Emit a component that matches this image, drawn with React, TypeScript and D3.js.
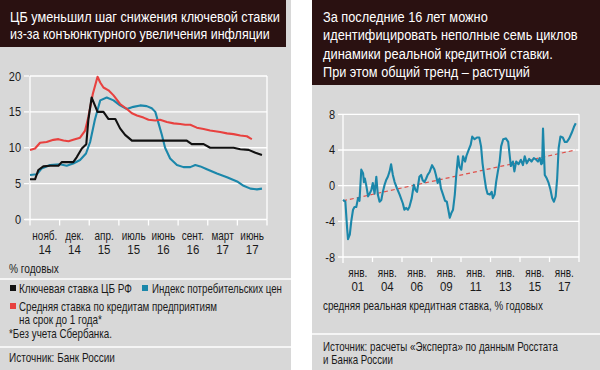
import React from 'react';
import * as d3 from 'd3';

// left chart: x is a period index, 10 units per axis label
const leftMonths = ['нояб.', 'дек.', 'апр.', 'июль', 'июнь', 'сент.', 'март', 'июнь'];
const leftYears = ['14', '14', '15', '15', '16', '16', '17', '17'];
const leftYTicks = [0, 5, 10, 15, 20];

const loanRate: [number, number][] = [
  [0, 9.7], [1.7, 9.9], [3.4, 10.7], [5.6, 10.8], [7.9, 11.1], [9.6, 11.2], [11.3, 11.0], [13.0, 10.9],
  [14.6, 11.1], [16.9, 11.4], [18.6, 12.4], [19.7, 14.3], [21.2, 17.5], [22.8, 19.9], [23.7, 19.1],
  [24.8, 18.4], [26.5, 18.0], [28.2, 17.3], [30.4, 16.1], [32.7, 15.4], [34.4, 14.8], [36.1, 14.5],
  [38.3, 14.2], [40.0, 13.9], [42.3, 13.8], [43.9, 13.9], [46.2, 13.6], [48.5, 13.4], [50.7, 13.3],
  [52.4, 13.2], [54.1, 13.2], [56.3, 12.8], [58.6, 12.6], [60.8, 12.4], [62.5, 12.3], [64.2, 12.2],
  [66.5, 12.0], [68.7, 11.9], [71.0, 11.7], [73.2, 11.6], [74.4, 11.3], [74.9, 11.2],
];

const keyRate: [number, number][] = [
  [0, 5.6], [1.7, 5.6], [2.8, 6.9], [4.5, 7.4], [6.8, 7.5], [9.6, 7.5], [10.7, 8.0], [14.6, 8.0],
  [15.8, 8.7], [17.5, 9.9], [19.0, 10.5], [19.7, 13.9], [20.8, 17.0], [21.9, 15.9], [22.8, 15.0],
  [24.8, 15.0], [26.5, 14.0], [28.8, 14.0], [30.4, 12.7], [32.1, 11.8], [34.4, 11.0], [37.2, 11.0],
  [52.9, 11.0], [54.6, 10.5], [58.6, 10.5], [60.8, 10.0], [68.7, 10.0], [71.0, 9.8], [73.8, 9.7],
  [76.1, 9.3], [78.3, 9.0],
];

const cpi: [number, number][] = [
  [0, 6.2], [2.3, 6.3], [3.9, 7.1], [6.8, 7.6], [10.1, 7.7], [12.4, 7.5], [14.6, 7.8], [16.9, 8.3],
  [18.9, 9.2], [20.3, 10.8], [21.9, 13.9], [23.7, 16.6], [25.9, 17.0], [28.2, 16.6], [30.4, 15.9],
  [32.7, 15.4], [34.9, 15.7], [37.2, 15.9], [39.4, 15.8], [41.1, 15.5], [42.3, 15.0], [43.4, 13.4],
  [44.5, 11.8], [45.6, 10.0], [47.3, 8.5], [49.6, 7.6], [51.8, 7.3], [54.1, 7.3], [55.8, 7.6],
  [57.5, 7.4], [59.7, 7.0], [63.1, 6.4], [66.5, 5.9], [69.9, 5.3], [72.1, 4.7], [74.4, 4.3],
  [76.6, 4.2], [78.3, 4.3],
];

// right chart
const rightMonths = ['янв.', 'янв.', 'янв.', 'янв.', 'янв.', 'янв.', 'янв.', 'янв.'];
const rightYears = ['01', '04', '06', '09', '11', '13', '15', '17'];
const rightYTicks = [-8, -4, 0, 4, 8];

const realRate: [number, number][] = [
  [0, -1.6], [0.8, -1.8], [1.4, -4.8], [1.7, -6.0], [2.3, -5.5], [2.8, -4.0], [3.4, -2.7], [3.9, -2.4],
  [4.5, -2.4], [5.1, -1.4], [5.6, -1.7], [6.2, 1.8], [6.8, 1.4], [7.1, 0.4], [7.4, 0.8], [7.9, 0.0],
  [8.5, -1.2], [9.0, -0.9], [9.6, -0.5], [10.1, 0.3], [10.7, -0.9], [11.3, 1.0], [11.8, -1.0],
  [12.4, -1.8], [13.0, -1.6], [13.5, -0.7], [14.1, 0.1], [14.6, 0.6], [15.2, 1.0], [15.8, 1.6],
  [16.3, 2.4], [16.9, 1.2], [17.5, 0.4], [18.3, -0.3], [19.2, -1.0], [20.3, -2.0], [20.8, -2.7],
  [21.4, -2.5], [22.0, -2.7], [22.5, -2.4], [23.3, -1.4], [24.0, 0.1], [24.6, -0.5], [25.1, -0.7],
  [25.9, 1.0], [26.5, 1.2], [27.0, 0.6], [27.6, 0.4], [28.2, 0.8], [28.7, 1.2], [29.3, 1.5],
  [30.2, 2.3], [31.0, 1.8], [31.5, 1.2], [32.1, 0.3], [32.7, 0.8], [33.2, -0.3], [33.8, -0.9],
  [34.6, -1.7], [35.2, -1.8], [35.7, -2.7], [36.2, -3.6], [36.7, -3.1], [37.3, -2.7], [37.9, -1.0],
  [38.4, 1.2], [39.0, 3.3], [39.5, 2.1], [40.1, 1.8], [40.7, 3.3], [41.4, 2.7], [41.9, 3.4],
  [42.6, 4.0], [43.3, 4.6], [43.8, 5.5], [44.6, 5.2], [45.4, 5.4], [46.2, 5.4], [46.8, 4.4],
  [47.3, 2.5], [47.9, 1.0], [48.5, -0.3], [49.0, -0.9], [49.8, -1.0], [50.4, -0.7], [50.8, -1.4],
  [51.4, -1.0], [51.9, 0.4], [52.5, 1.6], [53.1, 2.7], [53.6, 4.4], [54.3, 5.2], [55.2, 5.3],
  [56.0, 4.9], [56.5, 3.4], [56.9, 2.2], [57.6, 2.7], [58.1, 1.6], [58.7, 2.7], [59.5, 2.4],
  [60.3, 2.9], [61.0, 2.3], [61.6, 3.3], [62.3, 2.5], [63.1, 3.0], [63.9, 2.7], [64.7, 3.1],
  [65.5, 2.9], [66.1, 2.7], [66.7, 3.1], [67.2, 2.4], [67.5, 2.5], [67.8, 6.4], [68.4, 1.2],
  [69.1, 0.8], [69.7, 0.3], [70.3, -0.4], [70.9, -1.4], [71.5, -1.8], [72.1, -1.2], [72.6, 0.8],
  [73.1, 4.2], [73.7, 5.5], [74.5, 5.4], [75.2, 4.9], [75.9, 4.9], [76.7, 5.3], [77.5, 5.9],
  [78.3, 6.6], [78.9, 7.0],
];
const trend: [number, number][] = [[0, -1.7], [78.9, 4.0]];

const FONT = "'Liberation Sans', Arial, sans-serif";
const DARK = '#2a1111';
const PANEL = '#d8d8d8';
const RED = '#e8413f';
const BLUE = '#1b87aa';
const BLACK = '#111111';
const INK = '#1a1a1a';

let ctx: CanvasRenderingContext2D | null = null;
function measure(s: string, size: number) {
  if (!ctx) ctx = document.createElement('canvas').getContext('2d');
  if (!ctx) return s.length * size * 0.5;
  ctx.font = `${size}px 'Liberation Sans', Arial, sans-serif`;
  return ctx.measureText(s).width;
}

// condensed look: squeeze horizontally, to a target width or by a factor
function T({ x, y, size, w, sx, anchor = 'start', fill = INK, children }: {
  x: number; y: number; size: number; w?: number; sx?: number; anchor?: string; fill?: string; children: string | number;
}) {
  const k = w ? w / measure(String(children), size) : (sx ?? 0.82);
  return (
    <text transform={`translate(${x},${y}) scale(${k},1)`} fontSize={size} fontFamily={FONT}
      fill={fill} textAnchor={anchor}>{children}</text>
  );
}

export default function App() {
  // left scales
  const lx = d3.scaleLinear().domain([0, 80]).range([30, 267]);
  const lBand = d3.scaleBand<number>().domain(d3.range(8)).range([30, 267]);
  const ly = d3.scaleLinear().domain([0, 20]).range([219.5, 76]);
  const lLine = d3.line<[number, number]>().x(d => lx(d[0])).y(d => ly(d[1]));

  // right scales
  const rx = d3.scaleLinear().domain([0, 80]).range([343, 579]);
  const rBand = d3.scaleBand<number>().domain(d3.range(8)).range([343, 579]);
  const ry = d3.scaleLinear().domain([-8, 8]).range([257, 114.3]);
  const rLine = d3.line<[number, number]>().x(d => rx(d[0])).y(d => ry(d[1]));

  const rightTitle = ['За последние 16 лет можно', 'идентифицировать неполные семь циклов',
    'динамики реальной кредитной ставки.', 'При этом общий тренд – растущий'];
  const rightTitleW = [165, 255, 230, 207];

  return (
    <svg width={600} height={370} style={{ position: 'absolute', left: 0, top: 0, background: '#fff' }}>
      {/* left panel */}
      <rect x={0} y={0} width={291} height={370} fill={PANEL} />
      <rect x={0} y={0} width={286} height={47} fill={DARK} />
      <T x={10} y={21.5} size={15} w={270} fill="#fff">ЦБ уменьшил шаг снижения ключевой ставки</T>
      <T x={10} y={38.5} size={15} w={260} fill="#fff">из-за конъюнктурного увеличения инфляции</T>

      {leftYTicks.map(t => (
        <g key={'ly' + t}>
          <line x1={t === 0 ? 25 : 30} x2={267} y1={ly(t)} y2={ly(t)} stroke="#fff" strokeWidth={1.3} />
          <line x1={24} x2={29} y1={ly(t)} y2={ly(t)} stroke="#fff" strokeWidth={1.3} />
          <T x={21} y={ly(t) + 4.5} size={12.5} sx={0.88} anchor="end">{t}</T>
        </g>
      ))}
      <line x1={30} x2={30} y1={ly(20)} y2={ly(0)} stroke="#fff" strokeWidth={1.3} />
      <line x1={267} x2={267} y1={ly(20)} y2={ly(0)} stroke="#fff" strokeWidth={1.3} />
      {d3.range(9).map(i => (
        <line key={'lt' + i} x1={30 + i * lBand.bandwidth()} x2={30 + i * lBand.bandwidth()}
          y1={ly(0)} y2={ly(0) + 6} stroke="#fff" strokeWidth={1.3} />
      ))}
      {leftMonths.map((m, i) => (
        <g key={'lm' + i}>
          <T x={(lBand(i) ?? 0) + lBand.bandwidth() / 2} y={240} size={12.5} sx={0.8} anchor="middle">{m}</T>
          <T x={(lBand(i) ?? 0) + lBand.bandwidth() / 2} y={254} size={13.5} sx={0.85} anchor="middle">{leftYears[i]}</T>
        </g>
      ))}

      <path d={lLine(cpi) ?? ''} fill="none" stroke={BLUE} strokeWidth={2.1} strokeLinejoin="round" />
      <path d={lLine(loanRate) ?? ''} fill="none" stroke={RED} strokeWidth={2.1} strokeLinejoin="round" />
      <path d={lLine(keyRate) ?? ''} fill="none" stroke={BLACK} strokeWidth={2.1} strokeLinejoin="round" />

      <T x={9} y={273} size={13} w={50}>% годовых</T>
      <line x1={0} x2={291} y1={279} y2={279} stroke="#fff" strokeWidth={1.3} />

      <rect x={10} y={285} width={6} height={6} fill={BLACK} />
      <T x={19} y={293} size={13} w={113}>Ключевая ставка ЦБ РФ</T>
      <rect x={142} y={285} width={6} height={6} fill={BLUE} />
      <T x={152} y={293} size={13} w={130}>Индекс потребительских цен</T>
      <rect x={10} y={303} width={6} height={6} fill={RED} />
      <T x={19} y={311} size={13} w={198}>Средняя ставка по кредитам предприятиям</T>
      <T x={19} y={324} size={13} w={83}>на срок до 1 года*</T>
      <T x={9} y={338} size={13} w={103}>*Без учета Сбербанка.</T>
      <line x1={0} x2={291} y1={347} y2={347} stroke="#fff" strokeWidth={1.3} />
      <T x={9} y={362} size={13} w={106}>Источник: Банк России</T>

      {/* right panel */}
      <rect x={312} y={0} width={288} height={370} fill={PANEL} />
      <rect x={312} y={0} width={288} height={85} fill={DARK} />
      {rightTitle.map((s, i) => (
        <T key={'rt' + i} x={323} y={21.5 + i * 18.5} size={15} w={rightTitleW[i]} fill="#fff">{s}</T>
      ))}

      {rightYTicks.map(t => (
        <g key={'ry' + t}>
          <line x1={338} x2={579} y1={ry(t)} y2={ry(t)} stroke="#fff" strokeWidth={1.3} />
          <T x={335} y={ry(t) + 4.5} size={12.5} sx={0.88} anchor="end">{t}</T>
        </g>
      ))}
      <line x1={343} x2={343} y1={ry(8)} y2={ry(-8) + 6} stroke="#fff" strokeWidth={1.3} />
      <line x1={579} x2={579} y1={ry(8)} y2={ry(-8)} stroke="#fff" strokeWidth={1.3} />
      {d3.range(1, 9).map(i => (
        <line key={'rtk' + i} x1={343 + i * rBand.bandwidth()} x2={343 + i * rBand.bandwidth()}
          y1={ry(-8)} y2={ry(-8) + 5} stroke="#fff" strokeWidth={1.3} />
      ))}
      {rightMonths.map((m, i) => (
        <g key={'rm' + i}>
          <T x={(rBand(i) ?? 0) + rBand.bandwidth() / 2} y={277} size={12.5} sx={0.8} anchor="middle">{m}</T>
          <T x={(rBand(i) ?? 0) + rBand.bandwidth() / 2} y={291} size={13.5} sx={0.85} anchor="middle">{rightYears[i]}</T>
        </g>
      ))}

      <path d={rLine(trend) ?? ''} fill="none" stroke="#e0504a" strokeWidth={1.2} strokeDasharray="4,3" />
      <path d={rLine(realRate) ?? ''} fill="none" stroke={BLUE} strokeWidth={2.1} strokeLinejoin="round" />

      <T x={323} y={310} size={13} w={220}>средняя реальная кредитная ставка, % годовых</T>
      <line x1={312} x2={600} y1={334} y2={334} stroke="#fff" strokeWidth={1.3} />
      <T x={323} y={351} size={13} w={235}>Источник: расчеты «Эксперта» по данным Росстата</T>
      <T x={323} y={364} size={13} w={70}>и Банка России</T>
    </svg>
  );
}
